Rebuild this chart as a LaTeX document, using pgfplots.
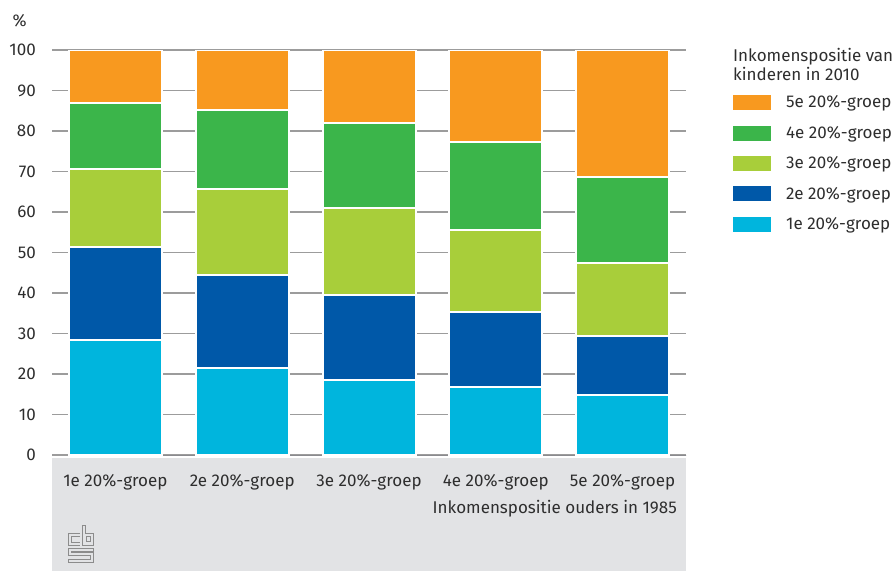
\documentclass[border=0pt]{standalone}
\usepackage{pgfplots}
\pgfplotsset{compat=1.18}
\usepackage{fontspec}
\setmainfont{Fira Sans}
\definecolor{cA}{HTML}{00B5DD}
\definecolor{cB}{HTML}{0058A8}
\definecolor{cC}{HTML}{A8CE3A}
\definecolor{cD}{HTML}{3BB54A}
\definecolor{cE}{HTML}{F8991F}
\definecolor{bgGray}{HTML}{E2E3E5}
\definecolor{axGray}{HTML}{8A8A8E}
\definecolor{gridGray}{HTML}{9C9C9C}
\definecolor{txt}{HTML}{2E2E2E}
\newcommand{\fs}{\fontsize{17}{20}\selectfont}
\begin{document}
\begin{tikzpicture}[x=1pt,y=1pt]
\useasboundingbox (0,0) rectangle (893,-571);
\fill[bgGray] (52,-458) rectangle (686,-571);
% logo
\begin{scope}[draw=gridGray!90!black, line width=0.9pt]
\draw (80,-533) -- (68,-533) -- (68,-545) -- (80,-545);
\draw (80,-536) -- (71,-536) -- (71,-542) -- (80,-542);
\draw (82,-525) -- (82,-545) -- (93,-545) -- (93,-533) -- (85,-533) -- (85,-525) -- cycle;
\draw (86.5,-536) rectangle (90.5,-541);
\draw (93,-548) -- (68,-548) -- (68,-555) -- (90,-555) -- (90,-559) -- (68,-559) -- (68,-562) -- (93,-562) -- (93,-552) -- (71,-552) -- (71,-551) -- (93,-551) -- cycle;
\end{scope}
\begin{axis}[
  at={(52pt,-455pt)}, anchor=south west,
  scale only axis, width=634pt, height=405pt,
  xmin=-0.5, xmax=4.5, ymin=0, ymax=100,
  ybar stacked, bar width=93pt,
  axis line style={draw=none},
  major tick length=0pt,
  ytick={0,10,...,100},
  xtick={0,1,2,3,4},
  xticklabels={1e 20\%-groep,2e 20\%-groep,3e 20\%-groep,4e 20\%-groep,5e 20\%-groep},
  ymajorgrids, grid style={gridGray, line width=1.2pt},
  /pgf/number format/assume math mode=true,
  tick label style={font=\fs, text=txt},
  yticklabel style={inner sep=0pt, anchor=east, xshift=-16pt},
  xticklabel style={inner sep=0pt, anchor=base, yshift=-31.7pt},
  every axis plot/.append style={draw=white, line width=2pt},
  legend style={at={(1.0741,0.889)}, anchor=north west, draw=none, fill=none,
    inner sep=0pt, font=\fs, text=txt, row sep=15.4pt, column sep=15pt,
    nodes={inner sep=0pt}},
  legend cell align=left,
  reverse legend,
  legend image code/.code={\fill[#1, draw=none] (0pt,-7.5pt) rectangle (38pt,7.5pt);},
]
\addplot[fill=cA] coordinates {(0,28.4) (1,21.4) (2,18.5) (3,16.7) (4,14.9)};
\addplot[fill=cB] coordinates {(0,23.0) (1,23.0) (2,20.9) (3,18.7) (4,14.6)};
\addplot[fill=cC] coordinates {(0,19.1) (1,21.3) (2,21.7) (3,20.1) (4,17.8)};
\addplot[fill=cD] coordinates {(0,16.3) (1,19.5) (2,21.0) (3,21.8) (4,21.4)};
\addplot[fill=cE] coordinates {(0,13.2) (1,14.8) (2,17.9) (3,22.7) (4,31.3)};
\legend{1e 20\%-groep,2e 20\%-groep,3e 20\%-groep,4e 20\%-groep,5e 20\%-groep}
\draw[axGray, line width=4pt] (axis cs:-0.5,0) ++(0,-2pt) -- ++(634pt,0);
\end{axis}
\node[anchor=base west, inner sep=0, font=\fs, text=txt] at (12.5,-26) {\%};
\node[anchor=base west, inner sep=0, font=\fs, text=txt] at (733,-61.7) {Inkomenspositie van};
\node[anchor=base west, inner sep=0, font=\fs, text=txt] at (733,-80) {kinderen in 2010};
\node[anchor=base east, inner sep=0, font=\fs, text=txt] at (677,-513) {Inkomenspositie ouders in 1985};
\end{tikzpicture}
\end{document}
